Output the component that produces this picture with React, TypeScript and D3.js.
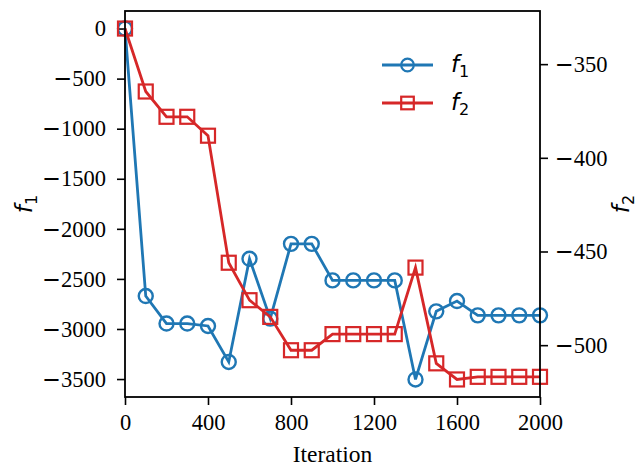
import React, { useEffect, useRef } from "react";
import * as d3 from "d3";

// iterations on the x axis
const iterations = [
  0, 100, 200, 300, 400, 500, 600, 700, 800, 900, 1000,
  1100, 1200, 1300, 1400, 1500, 1600, 1700, 1800, 1900, 2000,
];

// f1 (left axis)
const f1Values = [
  0, -2671, -2946, -2946, -2970, -3329, -2299, -2897, -2150, -2150, -2515,
  -2515, -2515, -2515, -3504, -2824, -2721, -2864, -2864, -2864, -2864,
];

// f2 (right axis)
const f2Values = [
  -331, -364.6, -378.1, -378.1, -388.2, -456.0, -476.0, -484.9, -502.7, -502.7, -494.1,
  -494.1, -494.1, -494.1, -458.6, -509.7, -518.3, -516.9, -516.9, -516.9, -516.9,
];

const xTicks = [0, 400, 800, 1200, 1600, 2000];
const f1Ticks = [0, -500, -1000, -1500, -2000, -2500, -3000, -3500];
const f2Ticks = [-350, -400, -450, -500];

const BLUE = "#1f77b4";
const RED = "#d62728";

const App = () => {
  const ref = useRef<SVGSVGElement>(null);

  useEffect(() => {
    const width = 640;
    const height = 468;
    const margin = { top: 11, right: 100, bottom: 71, left: 125 };
    const svg = d3.select(ref.current);
    svg.selectAll("*").remove();

    // matplotlib style 5% padding
    const pad = (ext: number[]) => {
      const r = ext[1] - ext[0];
      return [ext[0] - r * 0.05, ext[1] + r * 0.05];
    };

    const x = d3
      .scaleLinear()
      .domain([0, 2000])
      .range([margin.left, width - margin.right]);

    const y1 = d3
      .scaleLinear()
      .domain(pad(d3.extent(f1Values) as number[]))
      .range([height - margin.bottom, margin.top]);

    const y2 = d3
      .scaleLinear()
      .domain(pad(d3.extent(f2Values) as number[]))
      .range([height - margin.bottom, margin.top]);

    const serif = "'Liberation Serif', 'Times New Roman', serif";
    const mathFont = "'DejaVu Sans', sans-serif";

    // axes
    const xAxis = svg
      .append("g")
      .attr("transform", `translate(0,${height - margin.bottom})`)
      .call(d3.axisBottom(x).tickValues(xTicks).tickSize(8).tickPadding(9).tickSizeOuter(0));

    const leftAxis = svg
      .append("g")
      .attr("transform", `translate(${margin.left},0)`)
      .call(d3.axisLeft(y1).tickValues(f1Ticks).tickSize(8).tickPadding(11).tickSizeOuter(0));

    const rightAxis = svg
      .append("g")
      .attr("transform", `translate(${width - margin.right},0)`)
      .call(d3.axisRight(y2).tickValues(f2Ticks).tickSize(8).tickPadding(7).tickSizeOuter(0));

    [xAxis, leftAxis, rightAxis].forEach((g) => {
      g.attr("font-family", serif).attr("font-size", 22.5);
      g.select(".domain").remove();
      g.selectAll("line").attr("stroke", "#000").attr("stroke-width", 1.6);
      g.selectAll("text")
        .attr("fill", "#000")
        .each(function (d: any) {
          const t = d3.select(this as SVGTextElement);
          t.text(null);
          // matplotlib draws the minus from DejaVu Sans
          if (d < 0) {
            t.append("tspan").style("font-family", mathFont).text("\u2212");
          }
          t.append("tspan").style("font-family", serif).text(String(Math.abs(d)));
        });
    });

    // lines
    const line1 = d3
      .line<number>()
      .x((d, i) => x(iterations[i]))
      .y((d) => y1(d));
    const line2 = d3
      .line<number>()
      .x((d, i) => x(iterations[i]))
      .y((d) => y2(d));

    svg
      .append("path")
      .datum(f1Values)
      .attr("d", line1)
      .attr("fill", "none")
      .attr("stroke", BLUE)
      .attr("stroke-width", 2.8);

    svg
      .append("g")
      .selectAll("circle")
      .data(f1Values)
      .join("circle")
      .attr("cx", (d, i) => x(iterations[i]))
      .attr("cy", (d) => y1(d))
      .attr("r", 7)
      .attr("fill", "none")
      .attr("stroke", BLUE)
      .attr("stroke-width", 2.4);

    svg
      .append("path")
      .datum(f2Values)
      .attr("d", line2)
      .attr("fill", "none")
      .attr("stroke", RED)
      .attr("stroke-width", 2.8);

    const sq = 14;
    svg
      .append("g")
      .selectAll("rect")
      .data(f2Values)
      .join("rect")
      .attr("x", (d, i) => x(iterations[i]) - sq / 2)
      .attr("y", (d) => y2(d) - sq / 2)
      .attr("width", sq)
      .attr("height", sq)
      .attr("fill", "none")
      .attr("stroke", RED)
      .attr("stroke-width", 2.2);

    // frame
    svg
      .append("rect")
      .attr("x", margin.left)
      .attr("y", margin.top)
      .attr("width", width - margin.left - margin.right)
      .attr("height", height - margin.top - margin.bottom)
      .attr("fill", "none")
      .attr("stroke", "#000")
      .attr("stroke-width", 1.8);

    // axis labels
    svg
      .append("text")
      .attr("x", (margin.left + width - margin.right) / 2)
      .attr("y", 462)
      .attr("text-anchor", "middle")
      .style("font-family", serif)
      .style("font-size", "23.5px")
      .text("Iteration");

    const addMathLabel = (g: any, name: string, sub: string) => {
      const t = g
        .append("text")
        .style("font-family", mathFont)
        .style("font-size", "23px")
        .style("font-style", "italic");
      t.append("tspan").text(name);
      t.append("tspan")
        .attr("dy", 5)
        .style("font-size", "16px")
        .style("font-style", "normal")
        .text(sub);
      return t;
    };

    const yMid = (margin.top + height - margin.bottom) / 2;
    addMathLabel(
      svg.append("g").attr("transform", `translate(32,${yMid}) rotate(-90)`),
      "f",
      "1"
    ).attr("text-anchor", "middle");
    addMathLabel(
      svg.append("g").attr("transform", `translate(629,${yMid}) rotate(-90)`),
      "f",
      "2"
    ).attr("text-anchor", "middle");

    // legend
    const legend = svg.append("g").attr("transform", "translate(382,65)");
    const items = [
      { key: "1", color: BLUE, shape: "circle" },
      { key: "2", color: RED, shape: "square" },
    ];
    items.forEach((it, i) => {
      const g = legend.append("g").attr("transform", `translate(0,${i * 38})`);
      g.append("line")
        .attr("x1", 0)
        .attr("x2", 51)
        .attr("stroke", it.color)
        .attr("stroke-width", 2.8);
      if (it.shape === "circle") {
        g.append("circle")
          .attr("cx", 25.5)
          .attr("r", 6.3)
          .attr("fill", "none")
          .attr("stroke", it.color)
          .attr("stroke-width", 2.2);
      } else {
        g.append("rect")
          .attr("x", 25.5 - 6.3)
          .attr("y", -6.3)
          .attr("width", 12.6)
          .attr("height", 12.6)
          .attr("fill", "none")
          .attr("stroke", it.color)
          .attr("stroke-width", 2.2);
      }
      addMathLabel(g, "f", it.key).attr("x", 69).attr("y", 7);
    });
  }, []);

  return (
    <svg
      ref={ref}
      width={640}
      height={468}
      style={{ position: "absolute", left: 0, top: 0, background: "#fff" }}
    />
  );
};

export default App;
